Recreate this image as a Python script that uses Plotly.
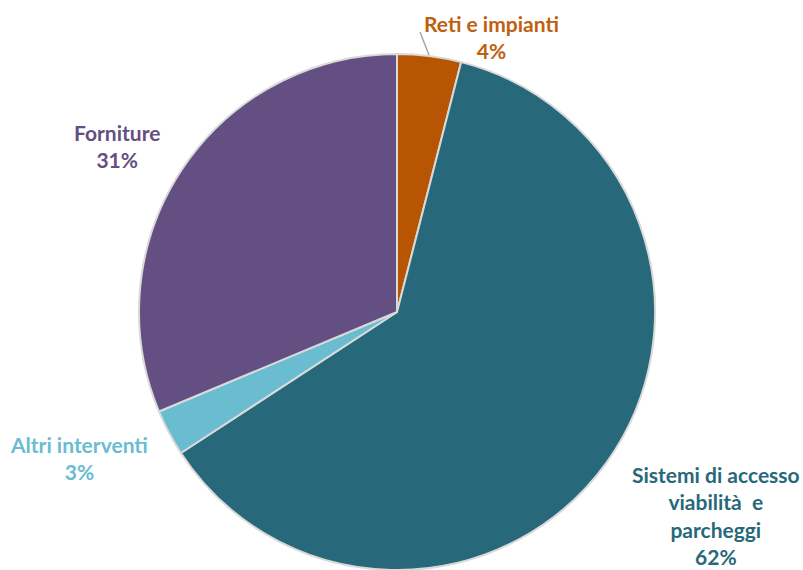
import plotly.graph_objects as go

categories = ["Reti e impianti", "Sistemi di accesso<br>viabilità  e<br>parcheggi", "Altri interventi", "Forniture"]
values = [4.0, 61.8, 2.9, 31.3]
colors = ["#B75503", "#27687A", "#6ABCD1", "#644F82"]
label_colors = ["#C0600E", "#27687A", "#6ABCD1", "#644F82"]
pct_labels = ["4%", "62%", "3%", "31%"]
# label centre positions (pixels from top-left of the window)
label_pos = [(491, 37), (716, 515), (79, 458), (117, 146)]

W, H = 803, 570


def px_x(x):
    return x / W


def px_y(y):
    return 1 - y / H


cx, cy, r = 397, 314, 260

fig = go.Figure(go.Pie(
    labels=categories,
    values=values,
    sort=False,
    direction="clockwise",
    rotation=0,
    marker=dict(colors=colors, line=dict(color="#D9D9D9", width=2)),
    textinfo="none",
    hoverinfo="label+percent",
    showlegend=False,
    domain=dict(x=[px_x(cx - r), px_x(cx + r)], y=[0.0, px_y(cy - r)]),
))

for cat, pct, col, (px, py) in zip(categories, pct_labels, label_colors, label_pos):
    fig.add_annotation(
        x=px_x(px), y=px_y(py), xref="paper", yref="paper",
        text=f"<b>{cat}<br>{pct}</b>", showarrow=False,
        font=dict(family="Lato", size=21, color=col),
        align="center", xanchor="center", yanchor="middle",
    )

fig.add_shape(type="line", xref="paper", yref="paper",
              x0=px_x(420), y0=px_y(32), x1=px_x(429), y1=px_y(55),
              line=dict(color="#A6A6A6", width=1.5))

fig.update_layout(
    width=W, height=H,
    margin=dict(l=0, r=0, t=0, b=0),
    paper_bgcolor="white", plot_bgcolor="white",
)
fig.write_html(
    "out.html",
    config={"displayModeBar": False},
    post_script="document.body.style.margin='0';document.body.style.overflow='hidden';",
)
